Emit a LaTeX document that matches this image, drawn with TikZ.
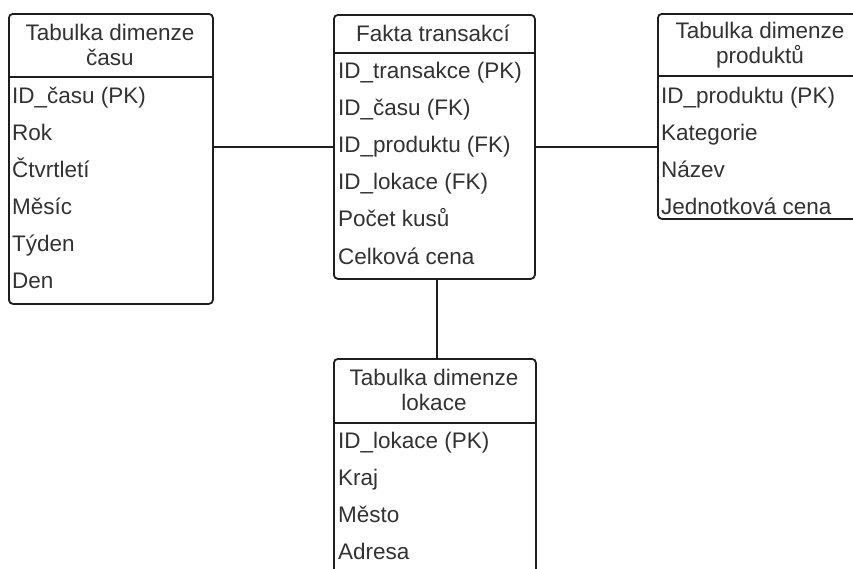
\documentclass[tikz,border=0pt]{standalone}
\usepackage{fontspec}
\setmainfont{Liberation Sans}
\usepackage{xcolor}
\usetikzlibrary{positioning, calc}
\definecolor{linecol}{RGB}{30,30,30}
\definecolor{txtcol}{RGB}{50,50,50}
\newcommand{\tfont}{\fontsize{22.5}{25}\selectfont}

\begin{document}
\begin{tikzpicture}[
  x=1pt, y=-1pt,
  tbl/.style={
    draw=linecol, fill=white, rounded corners=4pt, line width=1.8pt,
    anchor=north west, inner sep=0pt
  },
  head/.style={text=txtcol, align=center, font=\tfont, inner sep=0pt},
  row/.style={
    text=txtcol, anchor=west, font=\tfont, inner sep=0pt,
    text height=16pt, text depth=4pt
  },
  divider/.style={draw=linecol, line width=1.8pt},
  link/.style={draw=linecol, line width=1.8pt},
]
\useasboundingbox (0,0) rectangle (853,568);
\clip (0,0) rectangle (853,568);

% --- Tables ---
\node[tbl, minimum width=204, minimum height=290] (cas)     at (8,13)   {};
\node[tbl, minimum width=201, minimum height=264] (fakta)   at (333,14) {};
\node[tbl, minimum width=206, minimum height=205] (produkt) at (657,13) {};
\node[tbl, minimum width=202, minimum height=240] (lokace)  at (333,358) {};

% --- Headers ---
\node[head] (casH)     at (110,45)  {Tabulka dimenze\\času};
\node[head] (faktaH)   at (433,33)  {Fakta transakcí};
\node[head] (produktH) at (760,45)  {Tabulka dimenze\\produktů};
\node[head] (lokaceH)  at (434,390) {Tabulka dimenze\\lokace};

\draw[divider] (8,77) -- (212,77);
\draw[divider] (333,53) -- (534,53);
\draw[divider] (657,76) -- (863,76);
\draw[divider] (333,423) -- (535,423);

% --- Rows ---
\foreach \t [count=\i from 0] in {ID\_času (PK), Rok, Čtvrtletí, Měsíc, Týden, Den}
  \node[row] (cas-\i) at (12,{97+37*\i}) {\t};
\foreach \t [count=\i from 0] in {ID\_transakce (PK), ID\_času (FK), ID\_produktu (FK),
    ID\_lokace (FK), Počet kusů, Celková cena}
  \node[row] (fakta-\i) at (338,{72+37.2*\i}) {\t};
\foreach \t [count=\i from 0] in {ID\_produktu (PK), Kategorie, Název, Jednotková cena}
  \node[row] (produkt-\i) at (661,{97+37*\i}) {\t};
\foreach \t [count=\i from 0] in {ID\_lokace (PK), Kraj, Město, Adresa}
  \node[row] (lokace-\i) at (338,{442+37*\i}) {\t};

% --- Links ---
\draw[link] (fakta.west) -- (fakta.west -| cas.east);
\draw[link] (fakta.east) -- (fakta.east -| produkt.west);
\draw[link] ([xshift=2.5pt]fakta.south) -- ([xshift=2.5pt]fakta.south |- lokace.north);

\end{tikzpicture}
\end{document}
